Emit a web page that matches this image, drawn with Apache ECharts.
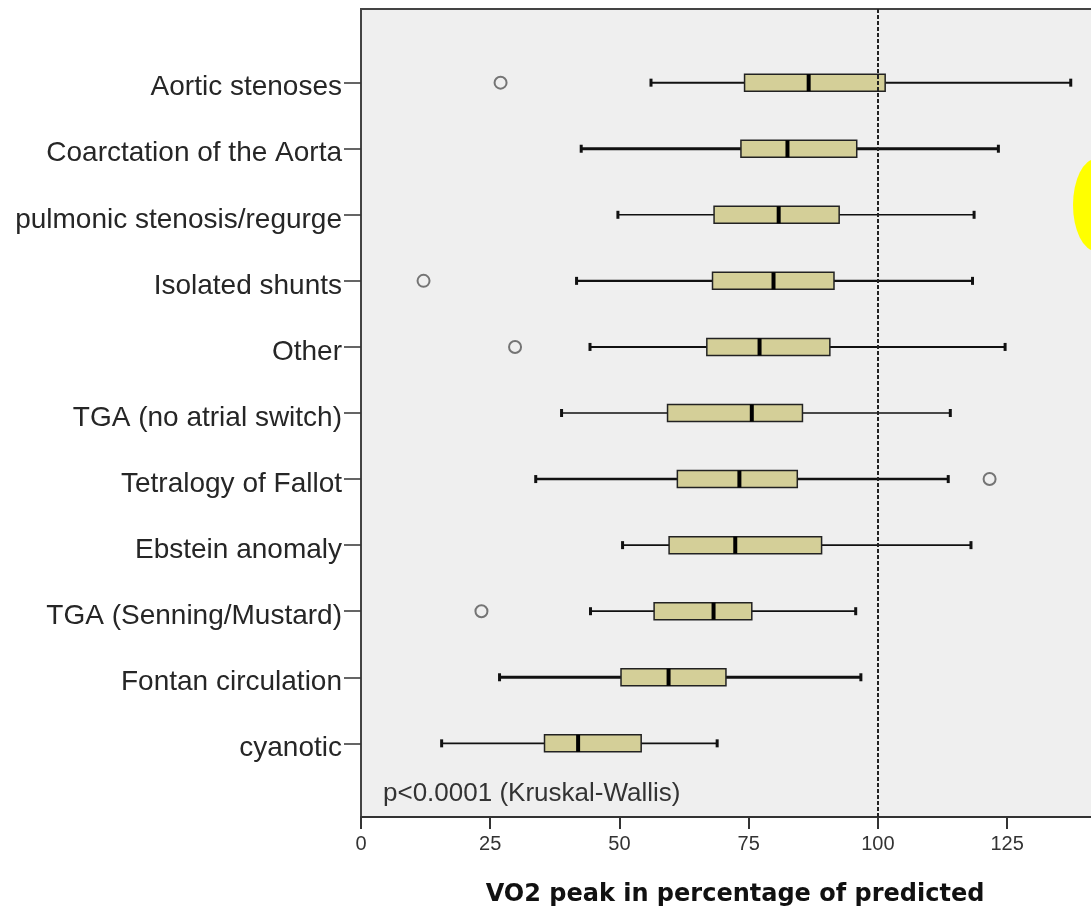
<!DOCTYPE html>
<html>
<head>
<meta charset="utf-8">
<script src="https://cdn.jsdelivr.net/npm/echarts@6/dist/echarts.min.js"></script>
<style>
  html, body { margin: 0; padding: 0; background: #fff; }
  #chart { width: 1091px; height: 909px; }
</style>
</head>
<body>
<div id="chart"></div>
<script>
// groups, top to bottom
const categories = [
    'Aortic stenoses', 'Coarctation of the Aorta', 'pulmonic stenosis/regurge',
    'Isolated shunts', 'Other', 'TGA (no atrial switch)', 'Tetralogy of Fallot',
    'Ebstein anomaly', 'TGA (Senning/Mustard)', 'Fontan circulation', 'cyanotic'
];
const whiskerLow  = [56.1, 42.6, 49.7, 41.7, 44.3, 38.8, 33.8, 50.6, 44.4, 26.8, 15.6];
const q1          = [74.2, 73.5, 68.3, 68.0, 66.9, 59.3, 61.2, 59.6, 56.7, 50.3, 35.5];
const median      = [86.6, 82.5, 80.8, 79.8, 77.1, 75.6, 73.2, 72.4, 68.2, 59.5, 42.0];
const q3          = [101.4, 95.9, 92.5, 91.5, 90.7, 85.4, 84.4, 89.1, 75.6, 70.6, 54.2];
const whiskerHigh = [137.3, 123.3, 118.6, 118.3, 124.6, 114.0, 113.6, 118.0, 95.7, 96.7, 68.9];
// [value, group index]
const outliers = [[27.0, 0], [12.1, 3], [29.8, 4], [121.6, 6], [23.3, 8]];
const referenceValue = 100;
const xTicks = [0, 25, 50, 75, 100, 125];

// whisker line thickness per row (style only)
const whiskerWidth = [2, 2.8, 1.6, 2.2, 2, 1.7, 2.6, 1.8, 1.7, 3, 1.8];

const chart = echarts.init(document.getElementById('chart'));
const rowIdx = categories.map((c, i) => i);
const labelFont = '"Liberation Sans", Arial, sans-serif';

const boxData = categories.map((c, i) => [i, whiskerLow[i], q1[i], median[i], q3[i], whiskerHigh[i]]);

function renderBox(params, api) {
    const row = api.value(0);
    const pLow = api.coord([api.value(1), row]);
    const pQ1 = api.coord([api.value(2), row]);
    const pMed = api.coord([api.value(3), row]);
    const pQ3 = api.coord([api.value(4), row]);
    const pHigh = api.coord([api.value(5), row]);
    const y = pLow[1];
    const h = 17;
    const lw = whiskerWidth[params.dataIndex];
    return {
        type: 'group',
        children: [
            { type: 'line', shape: { x1: pLow[0], y1: y, x2: pHigh[0], y2: y },
              style: { stroke: '#111', lineWidth: lw } },
            { type: 'rect', shape: { x: pLow[0] - 1.5, y: y - 4, width: 3, height: 8 },
              style: { fill: '#111' } },
            { type: 'rect', shape: { x: pHigh[0] - 1.5, y: y - 4, width: 3, height: 8 },
              style: { fill: '#111' } },
            { type: 'rect', shape: { x: pQ1[0], y: y - h / 2, width: pQ3[0] - pQ1[0], height: h },
              style: { fill: '#d4cf98', stroke: '#222', lineWidth: 1.5 } },
            { type: 'line', shape: { x1: pMed[0], y1: y - h / 2, x2: pMed[0], y2: y + h / 2 },
              style: { stroke: '#000', lineWidth: 4 } }
        ]
    };
}

const options = {
    animation: false,
    grid: {
        left: 361, right: -18, top: 9, bottom: 92,
        outerBoundsMode: 'none',
        containLabel: false,
        show: true,
        backgroundColor: '#efefef',
        borderColor: '#444',
        borderWidth: 2
    },
    xAxis: {
        type: 'value',
        min: 0,
        max: 144.7,
        interval: 25,
        name: 'VO2 peak in percentage of predicted',
        nameLocation: 'middle',
        nameGap: 66,
        nameTextStyle: { fontFamily: '"DejaVu Sans", Verdana, sans-serif', fontWeight: 'bold', fontSize: 24, color: '#111' },
        axisLine: { show: true, onZero: false, lineStyle: { color: '#333', width: 2 } },
        axisTick: { show: true, length: 12, lineStyle: { color: '#333', width: 2 }, customValues: xTicks },
        axisLabel: { fontFamily: labelFont, fontSize: 20, color: '#333', margin: 17, customValues: xTicks },
        splitLine: { show: false }
    },
    yAxis: {
        type: 'value',
        inverse: true,
        min: -1.115,
        max: 11.115,
        axisLine: { show: true, onZero: false, lineStyle: { color: '#444', width: 2 } },
        axisTick: { show: true, length: 17, lineStyle: { color: '#333', width: 1.5 }, customValues: rowIdx },
        axisLabel: {
            fontFamily: labelFont, fontSize: 28, color: '#262626', margin: 19,
            customValues: rowIdx,
            formatter: (v) => '{t|' + categories[v] + '}',
            rich: { t: { fontFamily: labelFont, fontSize: 28, color: '#262626', padding: [10, 0, 0, 0] } }
        },
        splitLine: { show: false }
    },
    series: [
        {
            type: 'custom',
            renderItem: renderBox,
            encode: { x: [1, 2, 3, 4, 5], y: 0 },
            data: boxData,
            z: 3
        },
        {
            type: 'scatter',
            data: outliers,
            symbol: 'circle',
            symbolSize: 12,
            itemStyle: { color: 'rgba(0,0,0,0)', borderColor: '#555', borderWidth: 2 },
            markLine: {
                silent: true,
                symbol: 'none',
                label: { show: false },
                lineStyle: { type: [4, 2], color: '#222', width: 2 },
                data: [{ xAxis: referenceValue }]
            },
            z: 4
        }
    ],
    graphic: [
        {
            type: 'text',
            left: 383,
            top: 781,
            style: { text: 'p<0.0001 (Kruskal-Wallis)', font: '26px "Liberation Sans", Arial, sans-serif', fill: '#333' }
        },
        {
            type: 'circle',
            x: 1096, y: 205,
            scaleX: 0.5,
            shape: { cx: 0, cy: 0, r: 46 },
            style: { fill: '#ffff00' },
            z: 10
        }
    ]
};

chart.setOption(options);
</script>
</body>
</html>
